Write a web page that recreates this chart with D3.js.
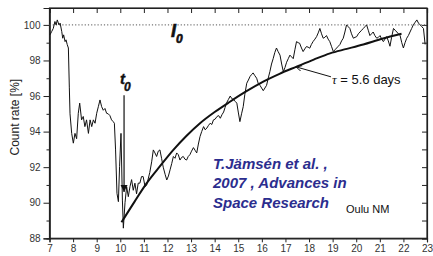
<!DOCTYPE html>
<html>
<head>
<meta charset="utf-8">
<script src="https://cdn.jsdelivr.net/npm/d3@7"></script>
<style>
  body { margin: 0; background: white; }
  svg { display: block; font-family: "Liberation Sans", Arial, sans-serif; }
</style>
</head>
<body>
<script>
// Oulu NM count rate, days of month
let countDays = [
  7.02, 7.09, 7.16, 7.23, 7.28, 7.33, 7.40, 7.45, 7.52, 7.56, 7.60, 7.66, 7.70, 7.75, 7.80,
  7.84, 7.87, 7.94, 8.01, 8.08, 8.15, 8.22, 8.28, 8.36, 8.43, 8.50, 8.57, 8.65, 8.72, 8.79,
  8.86, 8.93, 9.00, 9.07, 9.14, 9.21, 9.28, 9.35, 9.42, 9.49, 9.56, 9.63, 9.70, 9.75, 9.80,
  9.86, 9.92, 9.97, 10.03, 10.09, 10.13, 10.20, 10.27, 10.34, 10.41, 10.48, 10.55, 10.62, 10.69, 10.76,
  10.83, 10.90, 10.97, 11.05, 11.12, 11.25, 11.33, 11.40, 11.47, 11.54, 11.61, 11.68, 11.75, 11.82,
  11.90, 11.97, 12.04, 12.11, 12.18, 12.25, 12.32, 12.39, 12.46, 12.53, 12.60, 12.67, 12.74, 12.81,
  12.88, 12.95, 13.02, 13.10, 13.17, 13.24, 13.31, 13.38, 13.45, 13.53, 13.60, 13.67, 13.74, 13.81,
  13.88, 13.95, 14.02, 14.10, 14.17, 14.24, 14.31, 14.38, 14.44, 14.50, 14.58, 14.66, 14.73, 14.80,
  14.87, 14.94, 15.00, 15.07, 15.14, 15.21, 15.28, 15.36, 15.43, 15.50, 15.56, 15.63, 15.70, 15.78,
  15.85, 15.92, 15.99, 16.06, 16.13, 16.20, 16.27, 16.34, 16.41, 16.48, 16.55, 16.62, 16.69, 16.77,
  16.84, 16.91, 16.98, 17.05, 17.12, 17.19, 17.26, 17.33, 17.40, 17.47, 17.54, 17.60, 17.68, 17.75,
  17.82, 17.89, 17.96, 18.03, 18.10, 18.17, 18.25, 18.32, 18.39, 18.46, 18.53, 18.60, 18.67, 18.74,
  18.81, 18.88, 18.95, 19.03, 19.10, 19.17, 19.24, 19.31, 19.38, 19.45, 19.52, 19.59, 19.66, 19.73,
  19.80, 19.88, 19.95, 20.02, 20.09, 20.16, 20.23, 20.30, 20.37, 20.44, 20.51, 20.58, 20.65, 20.72,
  20.79, 20.87, 20.94, 21.01, 21.08, 21.15, 21.22, 21.29, 21.36, 21.43, 21.50, 21.58, 21.65, 21.72,
  21.79, 21.86, 21.93, 22.00, 22.07, 22.14, 22.21, 22.28, 22.35, 22.42, 22.50, 22.57, 22.64, 22.71,
  22.78, 22.85, 22.92
]
let countRate = [
  99.44, 99.62, 99.80, 100.19, 100.00, 100.28, 100.00, 100.10, 99.62, 99.25, 99.44, 99.06, 99.16, 98.90, 98.70,
  96.50, 95.00, 93.90, 93.35, 93.90, 93.60, 95.03, 95.60, 94.66, 94.85, 94.28, 94.66, 93.90, 94.66, 94.28,
  94.66, 94.47, 95.03, 95.40, 95.78, 95.40, 95.20, 95.30, 95.03, 95.00, 94.90, 94.66, 94.56, 94.47, 92.97,
  90.53, 90.06, 92.03, 93.90, 90.15, 88.57, 90.00, 90.90, 90.34, 90.90, 91.30, 90.70, 91.10, 90.50, 91.10,
  91.10, 91.47, 91.47, 90.90, 91.00, 91.70, 92.30, 92.97, 92.80, 92.60, 92.90, 92.97, 92.50, 92.00,
  91.60, 91.28, 91.50, 91.85, 92.20, 92.60, 92.50, 92.80, 92.70, 92.40, 92.55, 92.60, 92.45, 92.40,
  92.60, 92.70, 92.90, 93.10, 92.95, 92.80, 93.30, 93.72, 94.00, 94.28, 94.10, 94.20, 94.35, 94.47,
  94.40, 94.66, 94.70, 94.85, 94.90, 94.75, 94.95, 95.10, 95.35, 95.60, 95.80, 96.00, 95.85, 95.80,
  95.70, 95.60, 95.10, 94.56, 95.00, 95.40, 96.10, 96.72, 96.90, 97.10, 97.20, 97.30, 97.15, 97.00,
  96.70, 96.60, 96.45, 96.30, 96.45, 96.60, 97.00, 97.37, 97.80, 98.10, 98.45, 98.70, 98.50, 98.30,
  97.80, 97.37, 97.60, 97.90, 98.10, 98.30, 98.20, 98.10, 98.60, 99.06, 99.00, 98.97, 98.70, 98.50,
  98.65, 98.78, 98.75, 98.69, 98.90, 99.06, 99.20, 99.34, 99.55, 99.80, 99.50, 99.25, 99.30, 99.40,
  99.20, 99.06, 98.80, 98.50, 98.60, 98.70, 98.80, 98.90, 99.10, 99.25, 99.60, 100.00, 99.90, 99.80,
  99.50, 99.25, 99.30, 99.34, 99.50, 99.60, 99.70, 99.80, 99.90, 100.00, 99.70, 99.40, 99.50, 99.60,
  99.40, 99.25, 99.30, 99.40, 99.20, 99.06, 99.20, 99.34, 99.10, 98.80, 99.30, 99.80, 99.70, 99.60,
  99.50, 99.40, 99.00, 98.70, 99.00, 99.25, 99.40, 99.60, 99.80, 100.00, 100.15, 100.28, 100.10, 100.00,
  99.90, 99.80, 98.90
]

// fitted recovery curve, tau = 5.6 days
let fitDays = [10.05, 10.6, 11.12, 11.7, 12.25, 12.8, 13.38, 14.0, 14.65, 15.35, 16.06, 16.75, 17.47, 18.2, 18.89, 19.6, 20.3, 21.1, 21.92]
let fitRate = [88.90, 90.05, 91.10, 92.08, 92.97, 93.75, 94.47, 95.10, 95.68, 96.27, 96.81, 97.25, 97.65, 98.05, 98.40, 98.65, 98.90, 99.22, 99.50]

let xTicks = [7, 8, 9, 10, 11, 12, 13, 14, 15, 16, 17, 18, 19, 20, 21, 22, 23]
let yTicks = [88, 90, 92, 94, 96, 98, 100]
let yMinor = [89, 91, 93, 95, 97, 99]
let yAll = [88, 89, 90, 91, 92, 93, 94, 95, 96, 97, 98, 99, 100]

let w = 433
let h = 256
let plotL = 49.5, plotR = 427, plotT = 8, plotB = 238.3

let svg = d3.select("body").append("svg")
  .attr("width", w)
  .attr("height", h)

let x = d3.scaleLinear().domain([7, 23]).range([plotL, plotR])
let y = d3.scaleLinear().domain([88, 100.95]).range([plotB, plotT])

// axes
let tickColor = "#222"
svg.append("g")
  .attr("transform", "translate(0," + plotB + ")")
  .call(d3.axisBottom(x).tickValues(xTicks).tickSize(4).tickPadding(3).tickFormat(d3.format("d")))
svg.append("g")
  .attr("transform", "translate(0," + plotT + ")")
  .call(d3.axisTop(x).tickValues(xTicks).tickSize(-5).tickFormat(""))
svg.append("g")
  .attr("transform", "translate(" + plotL + ",0)")
  .call(d3.axisLeft(y).tickValues(yTicks).tickSize(6).tickPadding(3).tickFormat(d3.format("d")))
svg.append("g")
  .attr("transform", "translate(" + plotL + ",0)")
  .call(d3.axisLeft(y).tickValues(yMinor).tickSize(3).tickFormat(""))
svg.append("g")
  .attr("transform", "translate(" + plotR + ",0)")
  .call(d3.axisRight(y).tickValues(yAll).tickSize(-5).tickFormat(""))

svg.selectAll(".domain").attr("stroke", tickColor).attr("stroke-width", 1.2)
svg.selectAll(".tick line").attr("stroke", tickColor)
svg.selectAll(".tick text")
  .attr("fill", "#333")
  .style("font-size", "10px")
  .style("font-family", "Liberation Sans, Arial, sans-serif")

// frame edges not covered by axes
svg.append("rect")
  .attr("x", plotL).attr("y", plotT)
  .attr("width", plotR - plotL).attr("height", plotB - plotT)
  .attr("fill", "none").attr("stroke", tickColor).attr("stroke-width", 1.2)

// y title
svg.append("text")
  .text("Count rate [%]")
  .attr("transform", "translate(19," + ((plotT + plotB) / 2 - 6) + ") rotate(-90)")
  .attr("text-anchor", "middle")
  .attr("fill", "#222")
  .style("font-size", "12px")

// I0 reference line
svg.append("line")
  .attr("x1", x(7)).attr("x2", x(23))
  .attr("y1", y(100)).attr("y2", y(100))
  .attr("stroke", "#555")
  .attr("stroke-width", 1)
  .attr("stroke-dasharray", "1.2,2")

// measured trace
let line = d3.line()
  .x((d, i) => x(countDays[i]))
  .y((d, i) => y(countRate[i]))

svg.append("path")
  .datum(countRate)
  .attr("d", line)
  .attr("fill", "none")
  .attr("stroke", "#111")
  .attr("stroke-width", 1)

// fit curve
let fitLine = d3.line()
  .x((d, i) => x(fitDays[i]))
  .y((d, i) => y(fitRate[i]))
  .curve(d3.curveMonotoneX)

svg.append("path")
  .datum(fitRate)
  .attr("d", fitLine)
  .attr("fill", "none")
  .attr("stroke", "#111")
  .attr("stroke-width", 2)

// t0 marker arrow
let defs = svg.append("defs")
defs.append("marker")
  .attr("id", "solid")
  .attr("viewBox", "0 0 10 10")
  .attr("refX", 10).attr("refY", 5)
  .attr("markerWidth", 7).attr("markerHeight", 8)
  .attr("markerUnits", "userSpaceOnUse")
  .attr("orient", "auto")
  .append("path")
  .attr("d", "M0,0 L10,5 L0,10 Z")
  .attr("fill", "#111")
defs.append("marker")
  .attr("id", "open")
  .attr("viewBox", "0 0 10 10")
  .attr("refX", 10).attr("refY", 5)
  .attr("markerWidth", 7).attr("markerHeight", 6)
  .attr("markerUnits", "userSpaceOnUse")
  .attr("orient", "auto")
  .append("path")
  .attr("d", "M0,0 L10,5 L0,10")
  .attr("fill", "none")
  .attr("stroke", "#111")
  .attr("stroke-width", 1.5)

let t0Day = 10.16
svg.append("line")
  .attr("x1", x(t0Day)).attr("x2", x(t0Day))
  .attr("y1", y(96.05)).attr("y2", y(90.6))
  .attr("stroke", "#111")
  .attr("stroke-width", 1.2)
  .attr("marker-end", "url(#solid)")

let t0 = svg.append("text")
  .attr("x", x(t0Day) - 4)
  .attr("y", 83.5)
  .attr("font-weight", "bold")
  .attr("font-style", "italic")
  .attr("fill", "#111")
  .attr("stroke", "#111")
  .attr("stroke-width", 0.4)
t0.append("tspan").text("t").style("font-size", "15px")
t0.append("tspan").text("0").attr("dy", 7).attr("dx", -1).style("font-size", "12px")

let i0 = svg.append("text")
  .attr("x", 171)
  .attr("y", 37)
  .attr("font-weight", "bold")
  .attr("font-style", "italic")
  .attr("fill", "#111")
  .attr("stroke", "#111")
  .attr("stroke-width", 0.6)
i0.append("tspan").text("I").style("font-size", "18px")
i0.append("tspan").text("0").attr("dy", 6).attr("dx", 0).style("font-size", "12px")

// tau annotation
svg.append("line")
  .attr("x1", x(18.93)).attr("y1", y(97.08))
  .attr("x2", x(17.45)).attr("y2", y(97.64))
  .attr("stroke", "#111")
  .attr("stroke-width", 1)
  .attr("marker-end", "url(#open)")

let tau = svg.append("text")
  .attr("x", 332)
  .attr("y", 84)
  .attr("fill", "#111")
  .style("font-size", "13px")
tau.append("tspan").text("τ").style("font-family", "Liberation Serif, serif").style("font-style", "italic")
tau.append("tspan").text(" = 5.6 days")

// citation
let cite = ["T.Jämsén et al. ,", "2007 , Advances in", "Space Research"]
svg.append("g").selectAll("text")
  .data(cite)
  .enter()
  .append("text")
  .text(d => d)
  .attr("x", 213)
  .attr("y", (d, i) => 169 + i * 19.3)
  .attr("fill", "#2b2d8e")
  .attr("font-weight", "bold")
  .attr("font-style", "italic")
  .style("font-size", "15px")

svg.append("text")
  .text("Oulu NM")
  .attr("x", 346)
  .attr("y", 212.5)
  .attr("fill", "#111")
  .style("font-size", "11px")
</script>
</body>
</html>
